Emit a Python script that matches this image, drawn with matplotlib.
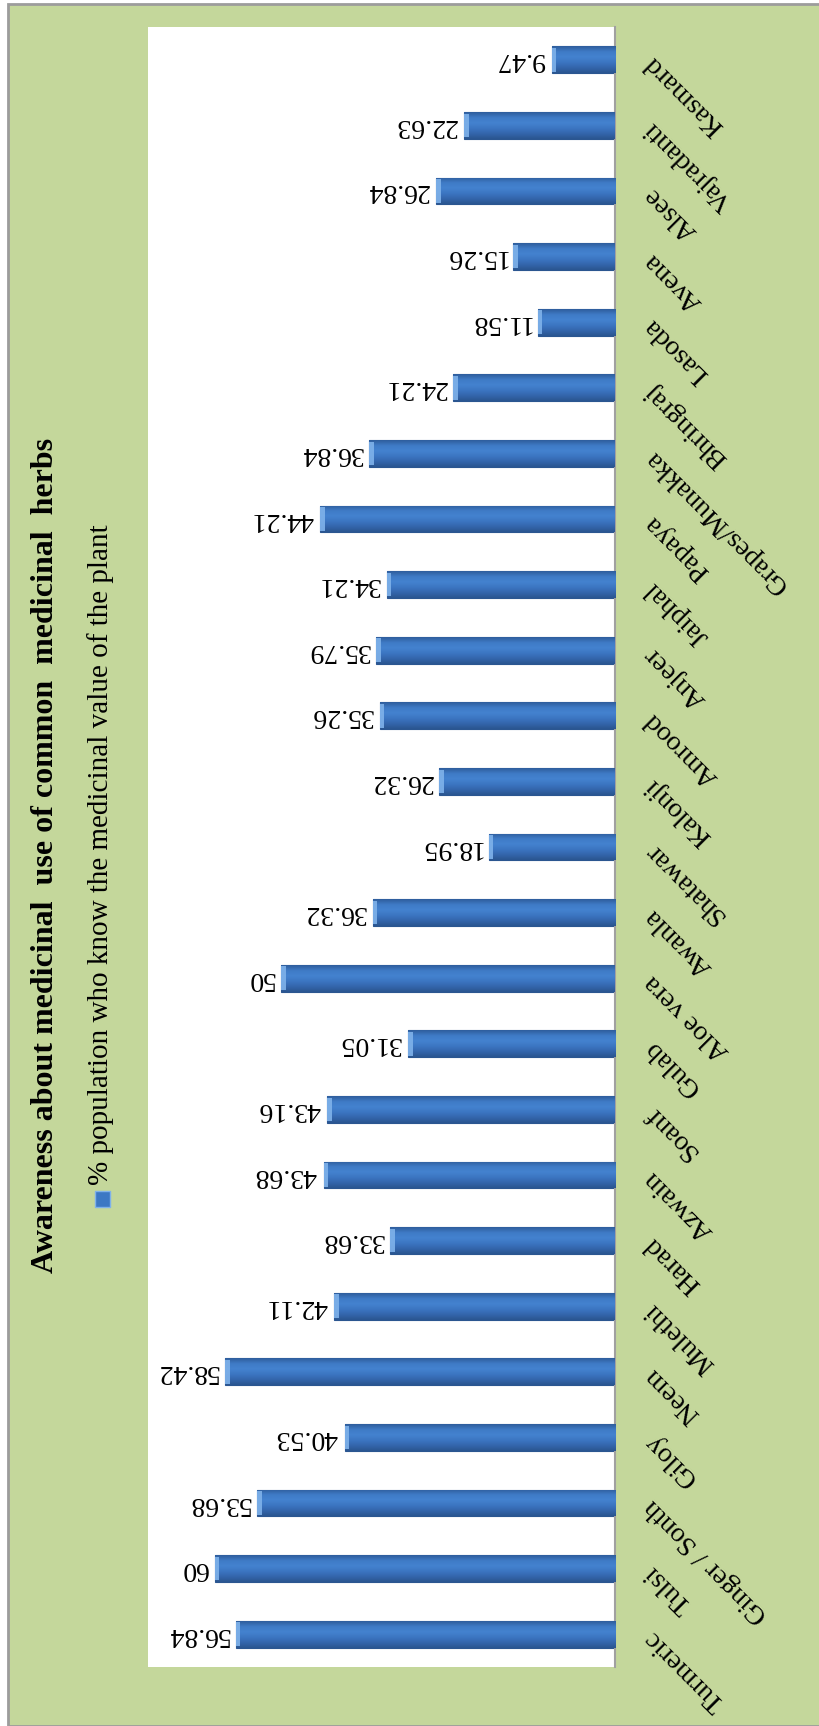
import numpy as np
import matplotlib
matplotlib.use("Agg")
import matplotlib.pyplot as plt
from matplotlib.patches import Rectangle
from matplotlib.colors import LinearSegmentedColormap

# ---------------- data ----------------
categories = ["Turmeric", "Tulsi", "Ginger / Sonth", "Giloy", "Neem", "Mulethi",
              "Harad", "Azwain", "Soanf", "Gulab", "Aloe vera", "Awanla",
              "Shatawar", "Kalonji", "Amrood", "Anjeer", "Jaiphal", "Papaya",
              "Grapes/Munakka", "Bhringraj", "Lasoda", "Avena", "Alsee",
              "Vajradanti", "Kasmard"]
values = [56.84, 60, 53.68, 40.53, 58.42, 42.11, 33.68, 43.68, 43.16, 31.05,
          50, 36.32, 18.95, 26.32, 35.26, 35.79, 34.21, 44.21, 36.84, 24.21,
          11.58, 15.26, 26.84, 22.63, 9.47]
value_labels = ["56.84", "60", "53.68", "40.53", "58.42", "42.11", "33.68",
                "43.68", "43.16", "31.05", "50", "36.32", "18.95", "26.32",
                "35.26", "35.79", "34.21", "44.21", "36.84", "24.21", "11.58",
                "15.26", "26.84", "22.63", "9.47"]
title = "Awareness about medicinal  use of common  medicinal  herbs"
series_name = "% population who know the medicinal value of the plant"

# ---------------- style ----------------
SERIF = ["Liberation Serif", "DejaVu Serif"]
plt.rcParams["font.family"] = SERIF
GREEN = "#C4D79B"
W, H = 819, 1726
fig = plt.figure(figsize=(W / 100, H / 100), dpi=100)
fig.patch.set_facecolor("white")

# outer chart-area panel
fig.patches.append(Rectangle((8 / W, 0), 1.0, (H - 4) / H, transform=fig.transFigure,
                             facecolor=GREEN, edgecolor="#9C9C9C", linewidth=2,
                             zorder=-10))

ax = fig.add_axes([148 / W, (H - 1667) / H, (615 - 148) / W, (1667 - 27) / H])
ax.set_zorder(1)
ax.set_facecolor("white")

y = np.arange(len(categories))
bars = ax.barh(y, values, height=0.41, color="#3A72BB", edgecolor="#2B5690",
               linewidth=0.8, zorder=2)

# gradient fill for each bar (bevel-like look)
cmap = LinearSegmentedColormap.from_list(
    "bev", ["#2A5590", "#3466AC", "#3C76C2", "#4482CF", "#3F7BC6", "#2E5D9C"])
grad = np.linspace(0, 1, 64).reshape(-1, 1)
for b in bars:
    x0, y0 = b.get_x(), b.get_y()
    w, h = b.get_width(), b.get_height()
    im = ax.imshow(grad, extent=[x0, x0 + w, y0, y0 + h], origin="lower",
                   cmap=cmap, aspect="auto", zorder=3, interpolation="bicubic")
    im.set_clip_path(b)

# light bevel at bar tips
ax.barh(y, [0.7] * len(values), left=np.array(values) - 0.7, height=0.36,
        color="#7FB2EA", linewidth=0, zorder=4, alpha=0.9)

ax.set_xlim(70, 0)
ax.set_ylim(-0.5, len(categories) - 0.5)

for sp in ["left", "top", "bottom"]:
    ax.spines[sp].set_visible(False)
ax.spines["right"].set_color("#A0A0A0")
ax.spines["right"].set_linewidth(1.5)
ax.xaxis.set_visible(False)

ax.yaxis.tick_right()
ax.set_yticks(y)
ax.set_yticklabels(categories)
ax.tick_params(axis="y", length=0, pad=24, labelsize=20)
for lab in ax.get_yticklabels():
    lab.set_rotation(135)
    lab.set_ha("right")
    lab.set_va("center")
    lab.set_rotation_mode("anchor")

# value labels (upside-down)
for yi, v, s in zip(y, values, value_labels):
    ax.annotate(s, xy=(v, yi), xytext=(-5, 0), textcoords="offset points",
                rotation=180, rotation_mode="anchor", ha="left", va="center",
                fontsize=20, color="black", zorder=5)

# title (vertical)
fig.text(46 / W, 1 - 855 / H, title, rotation=90, ha="center", va="center",
         fontsize=23, fontweight="bold", color="black")

# legend (vertical)
fig.patches.append(Rectangle((95 / W, 1 - 1207 / H), 15 / W, 16 / H,
                             transform=fig.transFigure, facecolor="#3C78C4",
                             edgecolor="#7FB2EA", linewidth=1, zorder=3))
fig.text(101 / W, 1 - 1185 / H, series_name, rotation=90, ha="center",
         va="bottom", fontsize=21, color="black")

fig.savefig("out.png", dpi=100, facecolor=fig.get_facecolor())
